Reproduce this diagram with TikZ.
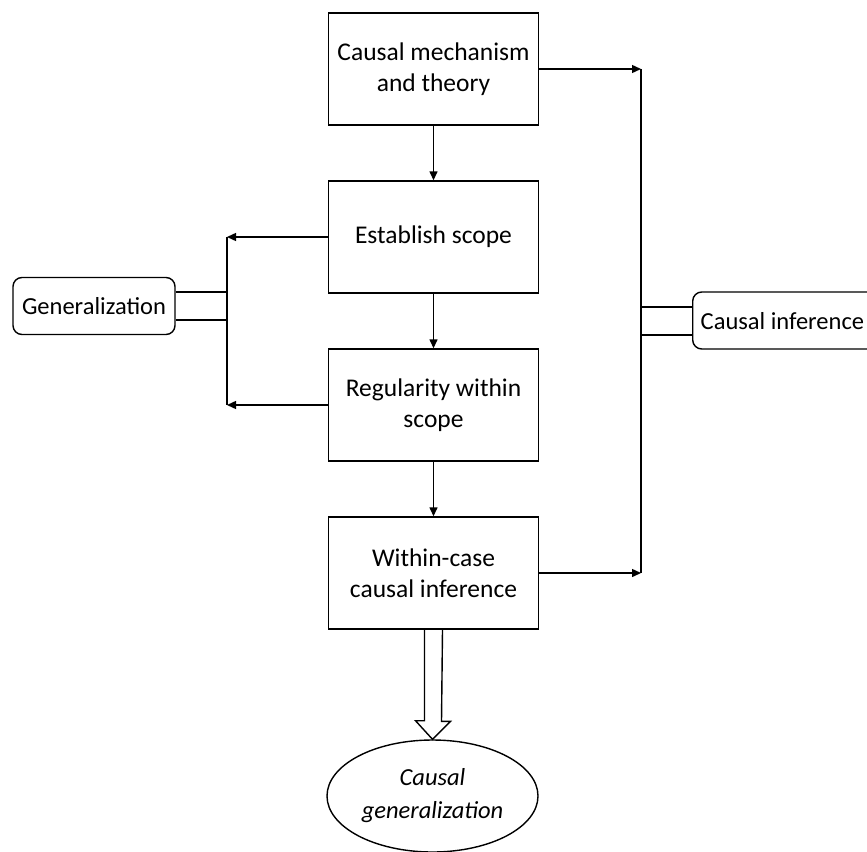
\documentclass[tikz,border=0pt]{standalone}
\usepackage{fontspec}
\setmainfont{Carlito}
\usetikzlibrary{arrows.meta,shapes.geometric}
\begin{document}
\begin{tikzpicture}[x=1pt,y=-1pt,
  font=\fontsize{25.5}{31}\selectfont,
  every path/.style={line width=1.4pt},
  stepbox/.style={draw,rectangle,minimum width=210pt,minimum height=112pt,align=center,inner sep=0pt},
  sidebox/.style={draw,rectangle,rounded corners=9pt,minimum height=57pt,inner sep=0pt,font=\fontsize{24.5}{30}\selectfont},
  arr/.style={-{Triangle[length=9pt,width=8pt]}},
]
\useasboundingbox (0,0) rectangle (867,851);

% main column
\node[stepbox] (mech)   at (433.5,69)  {Causal mechanism\\and theory};
\node[stepbox] (scope)  at (433.5,237) {Establish scope};
\node[stepbox] (reg)    at (433.5,405) {Regularity within\\scope};
\node[stepbox] (within) at (433.5,573) {Within-case\\causal inference};

\draw[arr] (mech) -- (scope);
\draw[arr] (scope) -- (reg);
\draw[arr] (reg) -- (within);

% left bracket: generalization
\node[sidebox,minimum width=162pt] (gen) at (94,306) {Generalization};
\coordinate (lt) at (227,237);
\coordinate (lb) at (227,405);
\draw[arr] (scope.west) -- (lt);
\draw[arr] (reg.west) -- (lb);
\draw (lt) -- (lb);
\coordinate (g1) at (227,292);
\coordinate (g2) at (227,320);
\draw (gen.east |- g1) -- (g1);
\draw (gen.east |- g2) -- (g2);

% right bracket: causal inference
\node[sidebox,anchor=west,minimum width=200pt,inner xsep=8pt,text depth=0pt] (cinf) at (692,320.5) {\makebox[184pt][l]{Causal inference}};
\coordinate (rt) at (641,69);
\coordinate (rb) at (641,573);
\draw[arr] (mech.east) -- (rt);
\draw[arr] (within.east) -- (rb);
\draw (rt) -- (rb);
\coordinate (c1) at (641,307);
\coordinate (c2) at (641,335);
\draw (c1) -- (cinf.west |- c1);
\draw (c2) -- (cinf.west |- c2);

% outcome
\node[draw,ellipse,minimum width=211pt,minimum height=112pt,inner sep=0pt,align=center,font=\fontsize{24.5}{33}\selectfont\itshape] (cg) at (432.5,796) {Causal\\generalization};

% hollow block arrow
\draw[line width=1.4pt,line join=miter]
  ([xshift=-9pt]within.south) -- ++(0,91) -- ++(-9,0) -- (cg.north)
  -- ++(18,-18) -- ++(-9,0) -- ([xshift=9pt]within.south);
\end{tikzpicture}
\end{document}
